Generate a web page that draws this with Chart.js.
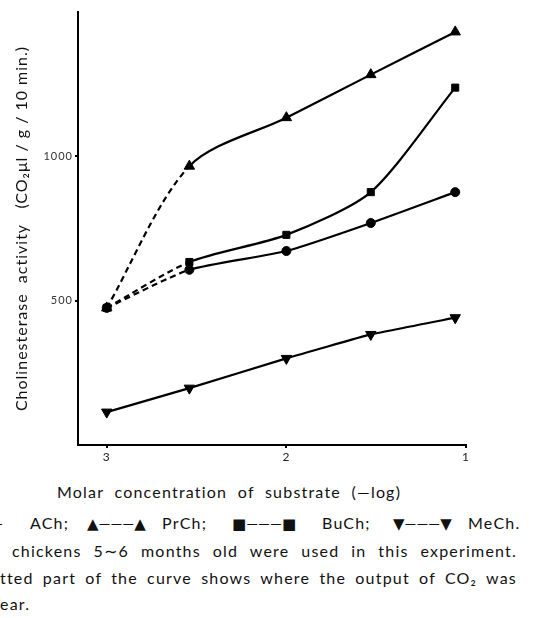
<!DOCTYPE html>
<html>
<head>
<meta charset="utf-8">
<script src="https://cdn.jsdelivr.net/npm/chart.js@4"></script>
<style>
  html, body { margin:0; padding:0; background:#fff; }
  body { width:533px; height:618px; position:relative; overflow:hidden; font-family: Lato, "DejaVu Sans", sans-serif; color:#111; }
  #wrap { position:absolute; left:0; top:0; width:533px; height:470px; }
  .cap { position:absolute; font-size:16px; letter-spacing:1.2px; white-space:nowrap; line-height:18px; }
  .just { text-align:justify; text-align-last:justify; white-space:normal; }
  .mk { font-size:15px; letter-spacing:0px; }
</style>
</head>
<body>
<div id="wrap"><canvas id="chart" width="533" height="470"></canvas></div>

<div class="cap" style="left:57px; top:483px;">Molar&nbsp; concentration&nbsp; of&nbsp; substrate&nbsp; (—log)</div>
<div class="cap mk" style="right:530px; top:514px;">●——</div>
<div class="cap" style="left:30px; top:514px;">ACh;</div>
<div class="cap mk" style="left:87px; top:514px;">▲———▲</div>
<div class="cap" style="left:162px; top:514px;">PrCh;</div>
<div class="cap mk" style="left:232px; top:514px;">■———■</div>
<div class="cap" style="left:322px; top:514px;">BuCh;</div>
<div class="cap mk" style="left:393px; top:514px;">▼———▼</div>
<div class="cap" style="left:468px; top:514px;">MeCh.</div>
<div class="cap just" style="left:12px; top:542px; width:505px;">chickens 5∼6 months old were used in this experiment.</div>
<div class="cap just" style="left:0px; top:569px; width:517px;">tted part of the curve shows where the output of CO₂ was</div>
<div class="cap" style="left:0px; top:595px;">ear.</div>

<script>
// -log molar concentration of substrate
const conc = [3, 2.54, 2.0, 1.53, 1.06]

// cholinesterase activity (CO2 ul / g / 10 min)
const ach  = [475, 607, 672, 769, 876]
const prch = [475, 966, 1134, 1283, 1431]
const buch = [475, 634, 728, 876, 1238]
const mech = [114, 197, 300, 383, 441]

const xTicks = [3, 2, 1]
const yTicks = [500, 1000]

const pts = arr => arr.map((v,i)=>({x: conc[i], y: v}))

// first segment was drawn dotted in the original (non-linear output)
const dashFirst = {borderDash: ctx => ctx.p0DataIndex === 0 ? [6,4] : undefined}

function series(label, data, style, rot, radius, dashed, tension){
  return {
    label, data: pts(data),
    borderColor:'#000', backgroundColor:'#000', borderWidth:2.2,
    pointStyle: style, rotation: rot, pointRadius: radius,
    pointBorderColor:'#000', pointBackgroundColor:'#000', pointBorderWidth:1,
    tension: tension,
    segment: dashed ? dashFirst : undefined
  }
}

// wider letter spacing for the axis text, like the typeset original
const spacing = {
  id:'spacing',
  beforeDraw(chart){ chart.ctx.letterSpacing = '1px' },
  afterDraw(chart){ chart.ctx.letterSpacing = '0px' }
}

const ctx = document.getElementById('chart').getContext('2d')
new Chart(ctx, {
  type:'line',
  data:{datasets:[
    series('PrCh', prch, 'triangle', 0, 6, true, 0.3),
    series('BuCh', buch, 'rect', 0, 5, true, 0.25),
    series('ACh', ach, 'circle', 0, 4.5, true, 0.2),
    series('MeCh', mech, 'triangle', 180, 6, false, 0.1)
  ]},
  plugins:[spacing],
  options:{
    responsive:false, animation:false,
    layout:{padding:{left:0, top:12, right:67, bottom:0}},
    plugins:{legend:{display:false}, tooltip:{enabled:false}},
    scales:{
      x:{
        type:'linear', reverse:true, min:1, max:3.16,
        afterBuildTicks: s => { s.ticks = xTicks.map(v=>({value:v})) },
        afterFit: s => { s.height = 25 },
        grid:{display:true, drawOnChartArea:false, drawTicks:true, tickLength:3, color:'#000', lineWidth:2},
        border:{display:true, color:'#000', width:2},
        ticks:{color:'#222', font:{family:'Lato', size:12}, padding:2, callback: v => String(v)}
      },
      y:{
        min:0, max:1500,
        afterBuildTicks: s => { s.ticks = yTicks.map(v=>({value:v})) },
        afterFit: s => { s.width = 78 },
        grid:{display:true, drawOnChartArea:false, drawTicks:true, tickLength:3, color:'#000', lineWidth:2},
        border:{display:true, color:'#000', width:2},
        ticks:{color:'#333', font:{family:'Lato', size:11}, padding:2, callback: v => String(v)},
        title:{display:true, text:'Cholinesterase  activity   (CO₂μl / g / 10 min.)', color:'#111', font:{family:'Lato', size:16}, padding:{top:12, bottom:0}}
      }
    }
  }
})
</script>
</body>
</html>
